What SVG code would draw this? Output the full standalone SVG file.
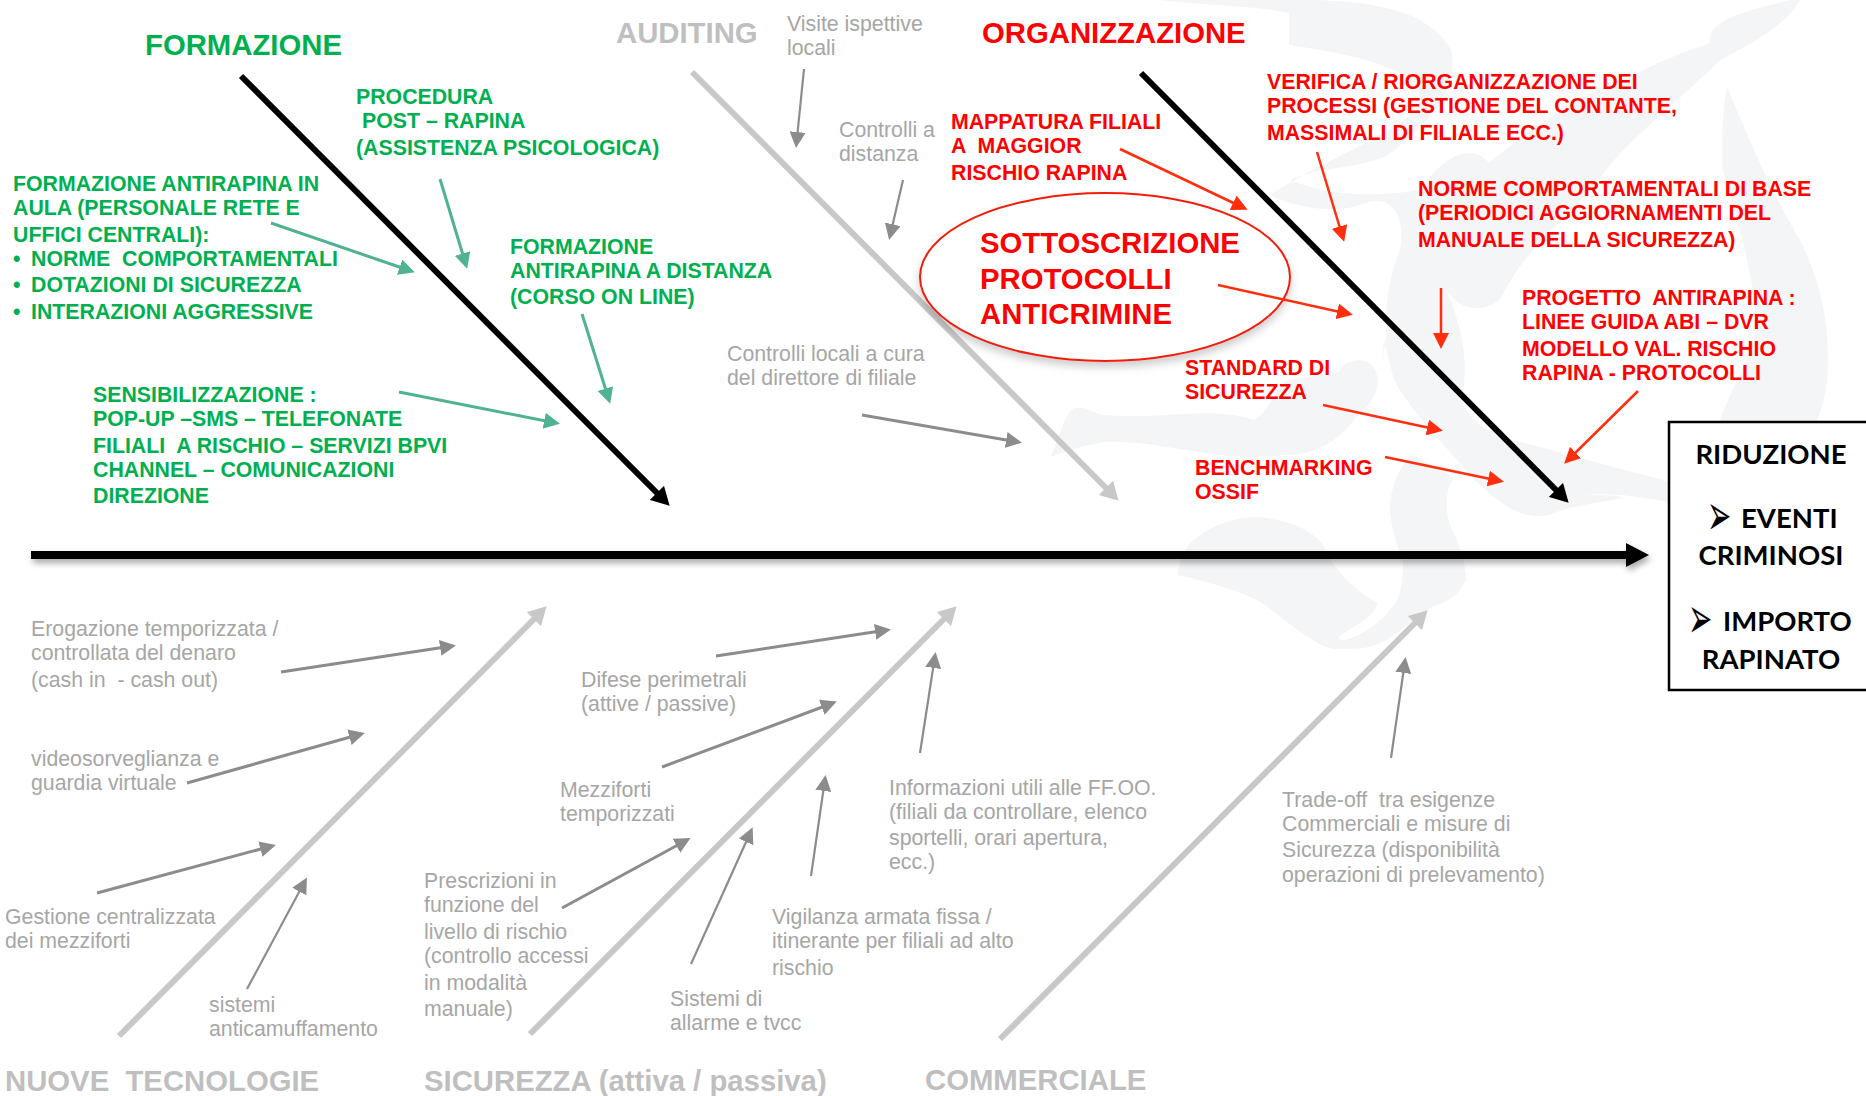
<svg xmlns="http://www.w3.org/2000/svg" width="1866" height="1096" viewBox="0 0 1866 1096">
<style>
text{font-family:"Liberation Sans",Arial,sans-serif}
.g{font-size:21.3px;fill:#a6a6a6}
.gh{font-size:29.3px;font-weight:700;fill:#bfbfbf}
.v{font-size:21.3px;font-weight:700;fill:#00b050}
.r{font-size:21.3px;font-weight:700;fill:#f00}
.vh{font-size:29.3px;font-weight:700;fill:#00b050}
.rh{font-size:29.3px;font-weight:700;fill:#f00}
.b{font-family:Lato,"Noto Sans",sans-serif;font-size:27.5px;font-weight:700;fill:#000}
.bu{font-family:"DejaVu Sans",sans-serif;font-size:29px;fill:#000}
.m{text-anchor:middle}
.wm{fill:#f4f5f7;stroke:none}
.sv{fill:none;stroke:#4fb290;stroke-width:3}
.sr{fill:none;stroke:#ff2f0e;stroke-width:2.5}
.sg{fill:none;stroke:#8c8c8c;stroke-width:3}
.st{stroke-width:2.2}
.bk{fill:none;stroke:#000;stroke-width:6}
.bg{fill:none;stroke:#c8c8c8;stroke-width:6}
</style>
<defs>
<marker id="av" markerUnits="userSpaceOnUse" markerWidth="16" markerHeight="16" viewBox="0 0 16 16" refX="12" refY="8" orient="auto"><path d="M0 0L16 8L0 16z" fill="#4fb290"/></marker>
<marker id="ar" markerUnits="userSpaceOnUse" markerWidth="16" markerHeight="16" viewBox="0 0 16 16" refX="12" refY="8" orient="auto"><path d="M0 0L16 8L0 16z" fill="#ff2f0e"/></marker>
<marker id="ag" markerUnits="userSpaceOnUse" markerWidth="16" markerHeight="16" viewBox="0 0 16 16" refX="12" refY="8" orient="auto"><path d="M0 0L16 8L0 16z" fill="#8c8c8c"/></marker>
<marker id="abk" markerUnits="userSpaceOnUse" markerWidth="18" markerHeight="20" viewBox="0 0 18 20" refX="10" refY="10" orient="auto"><path d="M0 0L18 10L0 20z" fill="#000"/></marker>
<marker id="abg" markerUnits="userSpaceOnUse" markerWidth="18" markerHeight="20" viewBox="0 0 18 20" refX="10" refY="10" orient="auto"><path d="M0 0L18 10L0 20z" fill="#c8c8c8"/></marker>
<filter id="sh" x="-2%" y="-30%" width="104%" height="200%"><feDropShadow dx="2" dy="4" stdDeviation="3" flood-color="#000" flood-opacity=".35"/></filter>
<filter id="she" x="-5%" y="-5%" width="110%" height="115%"><feDropShadow dx="0" dy="5" stdDeviation="4" flood-color="#000" flood-opacity=".2"/></filter>
</defs>
<rect width="1866" height="1096" fill="#fff"/>
<g id="watermark">
<path class="wm" d="M1160 0L1302 0C1370 0 1430 10 1451 50C1460 90 1430 120 1395 150C1370 170 1320 165 1290 180C1340 200 1385 195 1420 190C1440 160 1470 140 1489 163C1540 120 1590 90 1625 80C1660 60 1690 50 1710 43C1705 20 1750 10 1790 0L1800 0C1790 20 1760 40 1720 60C1680 100 1640 130 1610 165C1560 230 1530 240 1500 300C1470 320 1450 300 1438 277C1460 320 1470 350 1462 400C1470 425 1490 430 1513 440C1560 452 1620 470 1716 493L1770 505L1770 525C1700 510 1640 490 1581 495C1600 495 1620 495 1623 498C1600 503 1570 505 1550 515C1520 520 1500 505 1470 475C1440 440 1410 410 1394 380C1385 340 1380 300 1400 250C1405 220 1395 190 1360 205C1330 215 1290 205 1270 195C1340 150 1410 130 1421 100C1420 70 1360 55 1289 45L1289 13C1250 5 1200 5 1160 0z"/>
<path class="wm" d="M1050 457C1060 440 1065 410 1075 408C1085 405 1095 415 1105 415C1160 420 1210 405 1254 420C1270 410 1275 390 1288 380L1340 372C1340 360 1375 350 1378 380C1378 395 1366 410 1356 417C1340 440 1320 450 1305 453C1270 458 1240 457 1220 455C1180 450 1140 440 1105 442C1085 445 1070 450 1050 457z"/>
<path class="wm" d="M1727 87C1745 130 1770 190 1800 240C1825 290 1832 340 1826 390C1815 440 1795 470 1760 480C1740 470 1735 440 1720 420C1735 380 1756 350 1756 320C1752 260 1730 200 1722 167C1722 140 1722 110 1727 87z"/>
<path class="wm" d="M1258 517C1290 520 1310 530 1322 543C1330 560 1340 580 1377 603C1378 615 1350 628 1339 637C1338 642 1345 640 1352 638C1370 630 1382 620 1390 610C1400 600 1403 585 1403 563C1395 540 1390 520 1390 507C1390 490 1400 465 1411 455C1425 462 1440 470 1454 477C1445 490 1445 510 1450 525C1460 545 1466 565 1466 580C1460 595 1445 603 1432 607C1410 620 1395 640 1370 647C1350 650 1335 650 1326 647C1300 635 1280 615 1262 603C1240 590 1200 580 1177 575C1180 560 1185 550 1190 543C1210 525 1235 517 1258 517z"/>
<path class="wm" d="M1412 267C1395 300 1383 340 1380 380L1384 340L1394 380L1463 380C1465 340 1455 300 1438 277z"/>
</g>
<g id="auditing-bone"><line class="bg" x1="692" y1="72" x2="1113" y2="495" marker-end="url(#abg)"/></g>
<g id="node-protocolli-ellipse"><ellipse cx="1105" cy="277" rx="185" ry="84" fill="#fff" stroke="#f01e0a" stroke-width="2" filter="url(#she)"/></g>
<g id="connectors">
<g filter="url(#sh)"><path d="M31 551H1626V543L1649 555L1626 567V559H31z" fill="#000"/></g>
<line class="bk" x1="241" y1="76" x2="664" y2="500" marker-end="url(#abk)"/>
<line class="bk" x1="1141" y1="73" x2="1563" y2="497" marker-end="url(#abk)"/>
<line class="bg" x1="119" y1="1036" x2="541" y2="612" marker-end="url(#abg)"/>
<line class="bg" x1="530" y1="1034" x2="951" y2="612" marker-end="url(#abg)"/>
<line class="bg" x1="1000" y1="1039" x2="1422" y2="616" marker-end="url(#abg)"/>
<line class="sv" x1="271" y1="223" x2="411" y2="271" marker-end="url(#av)"/>
<line class="sv" x1="440" y1="179" x2="466" y2="265" marker-end="url(#av)"/>
<line class="sv" x1="582" y1="314" x2="609" y2="400" marker-end="url(#av)"/>
<line class="sv" x1="399" y1="392" x2="556" y2="423" marker-end="url(#av)"/>
<line class="sg st" x1="804" y1="69" x2="796.4" y2="144" marker-end="url(#ag)"/>
<line class="sg st" x1="903" y1="180" x2="890" y2="236" marker-end="url(#ag)"/>
<line class="sg" x1="862" y1="415" x2="1018" y2="442" marker-end="url(#ag)"/>
<line class="sr" x1="1120" y1="149" x2="1244" y2="208" marker-end="url(#ar)"/>
<line class="sr" x1="1317" y1="152" x2="1343" y2="238" marker-end="url(#ar)"/>
<line class="sr" x1="1441" y1="288" x2="1441" y2="345" marker-end="url(#ar)"/>
<line class="sr" x1="1218" y1="285" x2="1349" y2="314" marker-end="url(#ar)"/>
<line class="sr" x1="1323" y1="405" x2="1439" y2="430" marker-end="url(#ar)"/>
<line class="sr" x1="1385" y1="457" x2="1500" y2="481" marker-end="url(#ar)"/>
<line class="sr" x1="1638" y1="391" x2="1567" y2="461" marker-end="url(#ar)"/>
<line class="sg" x1="281" y1="672" x2="452" y2="646" marker-end="url(#ag)"/>
<line class="sg" x1="187" y1="783" x2="361" y2="734" marker-end="url(#ag)"/>
<line class="sg" x1="97" y1="893" x2="272" y2="846" marker-end="url(#ag)"/>
<line class="sg st" x1="247" y1="989" x2="305" y2="881" marker-end="url(#ag)"/>
<line class="sg" x1="716" y1="656" x2="887" y2="630" marker-end="url(#ag)"/>
<line class="sg" x1="662" y1="767" x2="833" y2="703" marker-end="url(#ag)"/>
<line class="sg" x1="562" y1="908" x2="687" y2="840" marker-end="url(#ag)"/>
<line class="sg st" x1="691" y1="964" x2="751" y2="831" marker-end="url(#ag)"/>
<line class="sg st" x1="811" y1="876" x2="825" y2="779" marker-end="url(#ag)"/>
<line class="sg st" x1="920" y1="753" x2="935" y2="656" marker-end="url(#ag)"/>
<line class="sg st" x1="1391" y1="758" x2="1405" y2="661" marker-end="url(#ag)"/>
</g>
<g id="node-formazione"><text class="vh" x="145" y="55">FORMAZIONE</text></g>
<g id="node-auditing"><text class="gh" x="616" y="43">AUDITING</text></g>
<g id="node-organizzazione"><text class="rh" x="982" y="43">ORGANIZZAZIONE</text></g>
<g id="node-nuove"><text class="gh" x="5" y="1091" xml:space="preserve">NUOVE  TECNOLOGIE</text></g>
<g id="node-sicurezza"><text class="gh" x="424" y="1091">SICUREZZA (attiva / passiva)</text></g>
<g id="node-commerciale"><text class="gh" x="925" y="1090">COMMERCIALE</text></g>
<g id="node-procedura"><text class="v"><tspan x="356" y="104">PROCEDURA</tspan><tspan x="362" y="128">POST – RAPINA</tspan><tspan x="356" y="155">(ASSISTENZA PSICOLOGICA)</tspan></text></g>
<g id="node-aula"><text class="v"><tspan x="13" y="191">FORMAZIONE ANTIRAPINA IN</tspan><tspan x="13" y="215">AULA (PERSONALE RETE E</tspan><tspan x="13" y="242">UFFICI CENTRALI):</tspan><tspan x="13" y="266">•</tspan><tspan x="31" y="266" xml:space="preserve">NORME  COMPORTAMENTALI</tspan><tspan x="13" y="292">•</tspan><tspan x="31" y="292">DOTAZIONI DI SICUREZZA</tspan><tspan x="13" y="319">•</tspan><tspan x="31" y="319">INTERAZIONI AGGRESSIVE</tspan></text></g>
<g id="node-distanza"><text class="v"><tspan x="510" y="254">FORMAZIONE</tspan><tspan x="510" y="278">ANTIRAPINA A DISTANZA</tspan><tspan x="510" y="304">(CORSO ON LINE)</tspan></text></g>
<g id="node-sensibilizzazione"><text class="v"><tspan x="93" y="402">SENSIBILIZZAZIONE :</tspan><tspan x="93" y="426">POP-UP –SMS – TELEFONATE</tspan><tspan x="93" y="453" xml:space="preserve">FILIALI  A RISCHIO – SERVIZI BPVI</tspan><tspan x="93" y="477">CHANNEL – COMUNICAZIONI</tspan><tspan x="93" y="503">DIREZIONE</tspan></text></g>
<g id="node-visite"><text class="g"><tspan x="787" y="31">Visite ispettive</tspan><tspan x="787" y="55">locali</tspan></text></g>
<g id="node-controlli-distanza"><text class="g"><tspan x="839" y="137">Controlli a</tspan><tspan x="839" y="161">distanza</tspan></text></g>
<g id="node-controlli-locali"><text class="g"><tspan x="727" y="361">Controlli locali a cura</tspan><tspan x="727" y="385">del direttore di filiale</tspan></text></g>
<g id="node-mappatura"><text class="r"><tspan x="951" y="129">MAPPATURA FILIALI</tspan><tspan x="951" y="153" xml:space="preserve">A  MAGGIOR</tspan><tspan x="951" y="180">RISCHIO RAPINA</tspan></text></g>
<g id="node-verifica"><text class="r"><tspan x="1267" y="89">VERIFICA / RIORGANIZZAZIONE DEI</tspan><tspan x="1267" y="113">PROCESSI (GESTIONE DEL CONTANTE,</tspan><tspan x="1267" y="140">MASSIMALI DI FILIALE ECC.)</tspan></text></g>
<g id="node-norme"><text class="r"><tspan x="1418" y="196">NORME COMPORTAMENTALI DI BASE</tspan><tspan x="1418" y="220">(PERIODICI AGGIORNAMENTI DEL</tspan><tspan x="1418" y="247">MANUALE DELLA SICUREZZA)</tspan></text></g>
<g id="node-sottoscrizione"><text class="rh"><tspan x="980" y="253">SOTTOSCRIZIONE</tspan><tspan x="980" y="288.5">PROTOCOLLI</tspan><tspan x="980" y="323.5">ANTICRIMINE</tspan></text></g>
<g id="node-progetto"><text class="r"><tspan x="1522" y="305" xml:space="preserve">PROGETTO  ANTIRAPINA :</tspan><tspan x="1522" y="329">LINEE GUIDA ABI – DVR</tspan><tspan x="1522" y="356">MODELLO VAL. RISCHIO</tspan><tspan x="1522" y="380">RAPINA - PROTOCOLLI</tspan></text></g>
<g id="node-standard"><text class="r"><tspan x="1185" y="375">STANDARD DI</tspan><tspan x="1185" y="399">SICUREZZA</tspan></text></g>
<g id="node-benchmarking"><text class="r"><tspan x="1195" y="475">BENCHMARKING</tspan><tspan x="1195" y="499">OSSIF</tspan></text></g>
<g id="node-riduzione"><rect x="1669" y="422" width="200" height="268" fill="#fff" stroke="#000" stroke-width="2.5"/>
<text class="b"><tspan class="m" x="1771" y="464">RIDUZIONE</tspan><tspan x="1741" y="528">EVENTI</tspan><tspan class="m" x="1771" y="565">CRIMINOSI</tspan><tspan x="1723" y="631">IMPORTO</tspan><tspan class="m" x="1771" y="669">RAPINATO</tspan></text>
<text class="bu" transform="translate(1707,535) scale(1,2)">➢</text>
<text class="bu" transform="translate(1688,638) scale(1,2)">➢</text></g>
<g id="node-erogazione"><text class="g"><tspan x="31" y="636">Erogazione temporizzata /</tspan><tspan x="31" y="660">controllata del denaro</tspan><tspan x="31" y="687" xml:space="preserve">(cash in  - cash out)</tspan></text></g>
<g id="node-video"><text class="g"><tspan x="31" y="766">videosorveglianza e</tspan><tspan x="31" y="790">guardia virtuale</tspan></text></g>
<g id="node-gestione"><text class="g"><tspan x="5" y="924">Gestione centralizzata</tspan><tspan x="5" y="948">dei mezziforti</tspan></text></g>
<g id="node-sistemi"><text class="g"><tspan x="209" y="1012">sistemi</tspan><tspan x="209" y="1036">anticamuffamento</tspan></text></g>
<g id="node-difese"><text class="g"><tspan x="581" y="687">Difese perimetrali</tspan><tspan x="581" y="711">(attive / passive)</tspan></text></g>
<g id="node-mezziforti"><text class="g"><tspan x="560" y="797">Mezziforti</tspan><tspan x="560" y="821">temporizzati</tspan></text></g>
<g id="node-prescrizioni"><text class="g"><tspan x="424" y="888">Prescrizioni in</tspan><tspan x="424" y="912">funzione del</tspan><tspan x="424" y="939">livello di rischio</tspan><tspan x="424" y="963">(controllo accessi</tspan><tspan x="424" y="990">in modalità</tspan><tspan x="424" y="1016">manuale)</tspan></text></g>
<g id="node-allarme"><text class="g"><tspan x="670" y="1006">Sistemi di</tspan><tspan x="670" y="1030">allarme e tvcc</tspan></text></g>
<g id="node-vigilanza"><text class="g"><tspan x="772" y="924">Vigilanza armata fissa /</tspan><tspan x="772" y="948">itinerante per filiali ad alto</tspan><tspan x="772" y="975">rischio</tspan></text></g>
<g id="node-informazioni"><text class="g"><tspan x="889" y="795">Informazioni utili alle FF.OO.</tspan><tspan x="889" y="819">(filiali da controllare, elenco</tspan><tspan x="889" y="845">sportelli, orari apertura,</tspan><tspan x="889" y="869">ecc.)</tspan></text></g>
<g id="node-tradeoff"><text class="g"><tspan x="1282" y="807" xml:space="preserve">Trade-off  tra esigenze</tspan><tspan x="1282" y="831">Commerciali e misure di</tspan><tspan x="1282" y="857">Sicurezza (disponibilità</tspan><tspan x="1282" y="882">operazioni di prelevamento)</tspan></text></g>
</svg>
